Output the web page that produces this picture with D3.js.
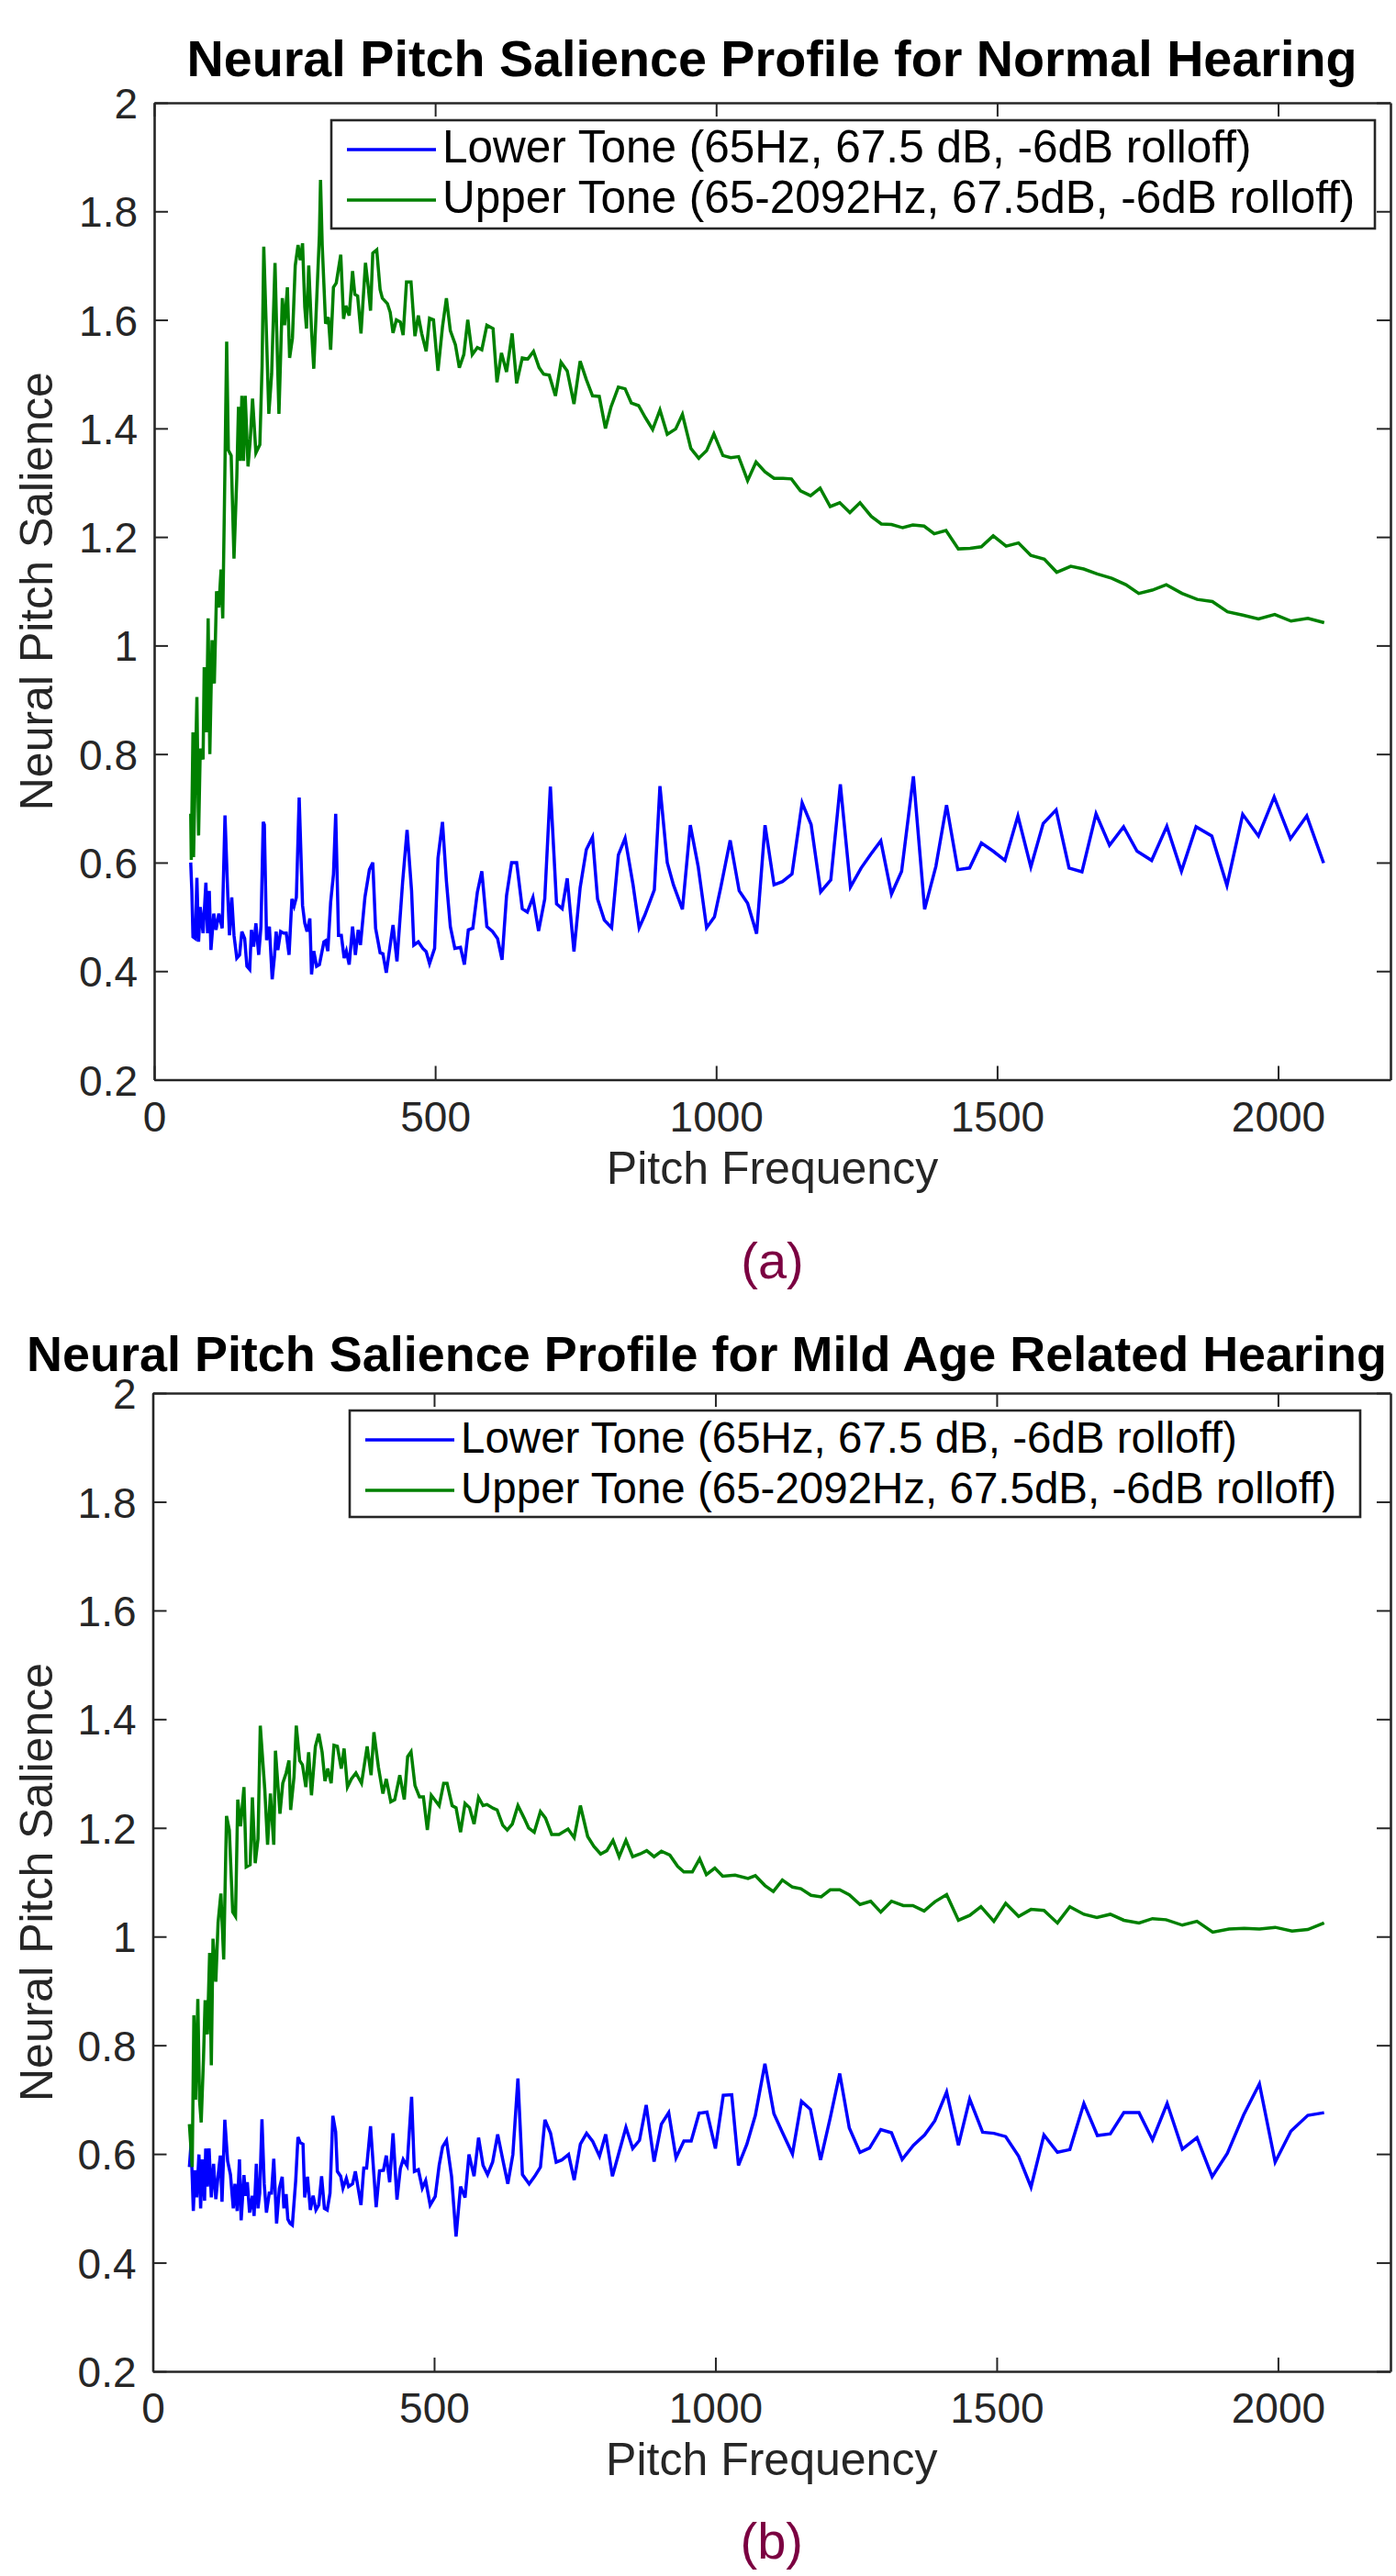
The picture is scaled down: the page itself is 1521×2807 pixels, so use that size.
<!DOCTYPE html>
<html>
<head>
<meta charset="utf-8">
<script src="https://cdn.jsdelivr.net/npm/d3@7/dist/d3.min.js"></script>
<style>
  body { margin: 0; background: #ffffff; }
  text { font-family: "Liberation Sans", Arial, Helvetica, sans-serif; }
</style>
</head>
<body>
<div id="container"></div>
<script>
let w = 1521;
let h = 2807;

// ---- data: [pitch frequency (Hz), salience] ----
let xTicks = [0, 500, 1000, 1500, 2000];
let yTicks = [0.2, 0.4, 0.6, 0.8, 1, 1.2, 1.4, 1.6, 1.8, 2];
let legendLabels = ["Lower Tone (65Hz, 67.5 dB, -6dB rolloff)", "Upper Tone (65-2092Hz, 67.5dB, -6dB rolloff)"];
let titles = ["Neural Pitch Salience Profile for Normal Hearing", "Neural Pitch Salience Profile for Mild Age Related Hearing"];
let captions = ["(a)", "(b)"];
let xLabel = "Pitch Frequency";
let yLabel = "Neural Pitch Salience";

// (a) normal hearing
let lowerA = [[65,0.60],[67,0.548],[69,0.463],[73,0.46],[76,0.572],[79,0.454],[82,0.518],[87,0.47],[92,0.563],[95,0.47],[98,0.548],[101,0.439],[106,0.506],[110,0.476],[115,0.506],[121,0.479],[126,0.687],[131,0.539],[134,0.466],[138,0.536],[142,0.466],[147,0.424],[152,0.43],[156,0.473],[161,0.46],[165,0.409],[170,0.403],[173,0.476],[177,0.445],[181,0.488],[186,0.43],[190,0.482],[194,0.675],[196,0.67],[200,0.457],[205,0.482],[210,0.385],[214,0.427],[217,0.473],[220,0.439],[225,0.473],[230,0.47],[235,0.47],[240,0.43],[245,0.533],[249,0.52],[253,0.536],[258,0.72],[264,0.521],[268,0.488],[272,0.473],[277,0.497],[280,0.394],[284,0.437],[289,0.409],[294,0.412],[302,0.454],[305,0.456],[309,0.437],[314,0.527],[319,0.578],[323,0.69],[328,0.466],[333,0.466],[338,0.424],[342,0.437],[347,0.412],[353,0.482],[358,0.43],[363,0.476],[367,0.448],[375,0.536],[383,0.587],[389,0.60],[394,0.479],[402,0.434],[407,0.432],[413,0.397],[425,0.485],[432,0.418],[442,0.563],[450,0.66],[458,0.548],[462,0.448],[470,0.454],[478,0.442],[484,0.436],[490,0.414],[499,0.442],[505,0.608],[513,0.675],[520,0.566],[527,0.482],[535,0.442],[545,0.444],[552,0.412],[559,0.476],[567,0.479],[575,0.545],[583,0.584],[592,0.482],[602,0.473],[611,0.46],[619,0.421],[627,0.539],[636,0.60],[645,0.60],[655,0.515],[664,0.509],[674,0.536],[684,0.474],[695,0.533],[705,0.74],[716,0.524],[726,0.515],[735,0.571],[747,0.436],[758,0.554],[769,0.624],[780,0.647],[789,0.533],[801,0.494],[814,0.48],[826,0.614],[838,0.645],[852,0.56],[863,0.48],[873,0.503],[881,0.525],[890,0.55],[900,0.741],[913,0.60],[924,0.559],[940,0.514],[954,0.669],[968,0.593],[983,0.48],[997,0.50],[1008,0.553],[1025,0.641],[1041,0.548],[1056,0.525],[1072,0.469],[1087,0.669],[1103,0.559],[1118,0.565],[1135,0.579],[1153,0.71],[1169,0.67],[1186,0.546],[1204,0.568],[1221,0.744],[1239,0.555],[1258,0.59],[1275,0.615],[1293,0.64],[1312,0.542],[1330,0.584],[1351,0.759],[1371,0.514],[1391,0.593],[1410,0.706],[1430,0.587],[1451,0.59],[1472,0.636],[1493,0.621],[1514,0.604],[1537,0.686],[1560,0.592],[1582,0.672],[1605,0.697],[1628,0.59],[1651,0.583],[1676,0.69],[1700,0.632],[1725,0.666],[1749,0.621],[1775,0.604],[1802,0.667],[1828,0.584],[1854,0.666],[1882,0.649],[1909,0.558],[1937,0.689],[1965,0.649],[1993,0.721],[2022,0.644],[2051,0.686],[2081,0.599]];
let upperA = [[65,0.69],[66,0.605],[69,0.84],[70,0.61],[76,0.905],[79,0.65],[82,0.81],[87,0.79],[89,0.96],[93,0.84],[96,1.05],[99,0.80],[103,1.01],[107,0.93],[111,1.10],[115,1.07],[119,1.14],[122,1.05],[125,1.26],[129,1.56],[132,1.36],[137,1.35],[142,1.16],[147,1.31],[150,1.44],[153,1.34],[156,1.46],[159,1.34],[162,1.46],[167,1.33],[171,1.38],[175,1.455],[181,1.355],[188,1.37],[192,1.515],[195,1.735],[199,1.60],[204,1.427],[209,1.50],[215,1.705],[218,1.58],[222,1.427],[228,1.64],[232,1.59],[237,1.66],[241,1.53],[246,1.566],[251,1.70],[256,1.738],[260,1.71],[264,1.741],[268,1.623],[271,1.584],[275,1.70],[280,1.58],[284,1.51],[294,1.756],[296,1.858],[299,1.738],[305,1.593],[310,1.605],[314,1.545],[319,1.66],[324,1.668],[332,1.72],[337,1.602],[341,1.626],[347,1.608],[353,1.69],[357,1.647],[362,1.644],[368,1.575],[376,1.705],[381,1.66],[385,1.617],[389,1.723],[396,1.729],[402,1.656],[406,1.64],[415,1.63],[420,1.614],[425,1.576],[431,1.60],[438,1.596],[443,1.572],[449,1.67],[457,1.67],[464,1.57],[470,1.608],[476,1.575],[484,1.542],[490,1.603],[497,1.60],[505,1.506],[513,1.587],[520,1.64],[527,1.58],[536,1.554],[543,1.512],[551,1.536],[558,1.60],[566,1.536],[575,1.549],[583,1.545],[592,1.59],[603,1.584],[610,1.485],[618,1.539],[627,1.504],[637,1.575],[645,1.483],[655,1.53],[665,1.528],[675,1.542],[685,1.512],[693,1.50],[703,1.498],[714,1.46],[724,1.522],[735,1.506],[747,1.445],[758,1.524],[769,1.49],[780,1.46],[792,1.459],[803,1.40],[813,1.44],[826,1.476],[838,1.473],[849,1.447],[862,1.442],[874,1.42],[887,1.398],[900,1.434],[913,1.389],[928,1.399],[940,1.426],[955,1.363],[969,1.345],[983,1.359],[996,1.39],[1012,1.35],[1026,1.346],[1040,1.348],[1056,1.304],[1071,1.338],[1087,1.32],[1103,1.308],[1119,1.308],[1134,1.307],[1150,1.285],[1168,1.276],[1185,1.29],[1203,1.256],[1220,1.263],[1238,1.245],[1256,1.263],[1276,1.238],[1294,1.224],[1312,1.223],[1332,1.217],[1350,1.222],[1370,1.22],[1388,1.206],[1409,1.212],[1431,1.178],[1452,1.179],[1472,1.182],[1493,1.202],[1516,1.183],[1538,1.189],[1560,1.166],[1584,1.159],[1606,1.135],[1631,1.146],[1654,1.141],[1678,1.132],[1704,1.124],[1729,1.112],[1752,1.096],[1776,1.102],[1801,1.112],[1829,1.096],[1856,1.085],[1883,1.081],[1910,1.062],[1937,1.056],[1965,1.049],[1994,1.057],[2023,1.045],[2053,1.05],[2082,1.042]];

// (b) mild age related hearing
let lowerB = [[65,0.576],[68,0.62],[72,0.495],[75,0.57],[78,0.52],[82,0.599],[85,0.50],[88,0.59],[92,0.514],[94,0.61],[97,0.54],[100,0.61],[104,0.52],[108,0.582],[112,0.517],[116,0.56],[120,0.597],[123,0.512],[128,0.663],[133,0.587],[138,0.562],[143,0.50],[146,0.545],[150,0.495],[154,0.59],[157,0.478],[162,0.561],[165,0.523],[168,0.548],[172,0.492],[177,0.523],[180,0.486],[184,0.582],[187,0.50],[190,0.528],[194,0.664],[198,0.545],[202,0.492],[207,0.528],[211,0.528],[215,0.591],[220,0.472],[225,0.537],[230,0.558],[233,0.50],[237,0.526],[240,0.48],[244,0.472],[248,0.469],[254,0.551],[258,0.631],[262,0.621],[267,0.618],[270,0.52],[275,0.558],[280,0.497],[285,0.523],[290,0.497],[295,0.506],[300,0.559],[305,0.50],[310,0.497],[315,0.528],[320,0.67],[325,0.641],[328,0.568],[334,0.559],[338,0.537],[344,0.555],[348,0.54],[355,0.545],[360,0.568],[370,0.506],[375,0.574],[380,0.574],[387,0.651],[397,0.502],[403,0.569],[410,0.57],[415,0.597],[421,0.548],[427,0.638],[434,0.516],[440,0.573],[445,0.59],[452,0.578],[460,0.705],[465,0.568],[472,0.571],[479,0.537],[485,0.551],[493,0.506],[502,0.522],[509,0.579],[515,0.613],[522,0.625],[531,0.559],[539,0.448],[547,0.54],[555,0.52],[562,0.599],[571,0.559],[579,0.63],[587,0.579],[595,0.562],[604,0.585],[613,0.636],[622,0.59],[631,0.545],[640,0.599],[649,0.739],[657,0.562],[669,0.545],[679,0.559],[689,0.576],[697,0.663],[707,0.638],[717,0.585],[727,0.589],[739,0.599],[749,0.552],[760,0.618],[771,0.638],[782,0.623],[794,0.596],[805,0.636],[817,0.559],[829,0.604],[841,0.649],[853,0.61],[865,0.625],[877,0.69],[891,0.586],[904,0.655],[917,0.676],[930,0.593],[944,0.624],[957,0.624],[971,0.675],[985,0.677],[1000,0.61],[1014,0.708],[1029,0.709],[1041,0.579],[1056,0.618],[1071,0.671],[1088,0.766],[1104,0.674],[1119,0.64],[1137,0.60],[1153,0.697],[1169,0.682],[1187,0.589],[1204,0.666],[1221,0.748],[1238,0.648],[1257,0.603],[1274,0.611],[1294,0.645],[1313,0.639],[1332,0.59],[1352,0.616],[1372,0.635],[1390,0.661],[1411,0.714],[1432,0.616],[1452,0.701],[1475,0.64],[1495,0.638],[1516,0.632],[1539,0.596],[1561,0.539],[1584,0.635],[1608,0.603],[1630,0.608],[1655,0.693],[1679,0.634],[1702,0.637],[1726,0.676],[1753,0.676],[1777,0.626],[1803,0.693],[1830,0.609],[1856,0.63],[1883,0.558],[1910,0.601],[1939,0.672],[1967,0.729],[1995,0.585],[2023,0.642],[2053,0.671],[2082,0.676]];
let upperB = [[65,0.655],[70,0.576],[73,0.855],[76,0.70],[80,0.885],[83,0.70],[86,0.658],[90,0.773],[93,0.883],[97,0.82],[101,0.97],[104,0.763],[107,0.996],[112,0.917],[116,1.026],[121,1.079],[126,0.958],[131,1.222],[136,1.196],[142,1.045],[147,1.037],[151,1.252],[156,1.203],[162,1.275],[166,1.128],[173,1.132],[177,1.256],[182,1.135],[187,1.18],[191,1.388],[199,1.271],[204,1.169],[209,1.263],[215,1.169],[218,1.342],[226,1.226],[231,1.282],[237,1.301],[242,1.324],[245,1.233],[251,1.294],[255,1.388],[261,1.324],[266,1.316],[272,1.275],[277,1.339],[282,1.26],[289,1.35],[295,1.373],[301,1.339],[306,1.286],[311,1.309],[317,1.282],[322,1.352],[328,1.35],[335,1.309],[340,1.346],[346,1.275],[353,1.29],[361,1.301],[371,1.282],[381,1.35],[388,1.297],[393,1.376],[401,1.312],[409,1.263],[415,1.29],[423,1.248],[430,1.252],[439,1.297],[447,1.252],[453,1.331],[459,1.34],[466,1.278],[474,1.257],[481,1.257],[488,1.196],[495,1.26],[509,1.241],[517,1.282],[523,1.282],[532,1.241],[539,1.237],[547,1.192],[555,1.245],[563,1.237],[571,1.207],[579,1.256],[587,1.241],[594,1.243],[605,1.236],[612,1.233],[622,1.205],[630,1.196],[639,1.207],[649,1.241],[660,1.218],[668,1.20],[678,1.192],[689,1.23],[698,1.218],[709,1.188],[722,1.188],[738,1.198],[749,1.182],[760,1.241],[773,1.184],[784,1.166],[796,1.152],[807,1.158],[818,1.177],[829,1.147],[841,1.177],[853,1.147],[866,1.152],[878,1.158],[891,1.147],[904,1.157],[919,1.15],[933,1.129],[944,1.119],[959,1.119],[972,1.143],[984,1.114],[999,1.126],[1013,1.111],[1035,1.113],[1058,1.107],[1071,1.112],[1088,1.094],[1103,1.083],[1119,1.104],[1137,1.091],[1152,1.088],[1170,1.076],[1188,1.073],[1204,1.086],[1221,1.086],[1238,1.077],[1257,1.059],[1276,1.065],[1294,1.045],[1313,1.065],[1334,1.057],[1351,1.057],[1371,1.047],[1390,1.064],[1411,1.077],[1432,1.03],[1452,1.039],[1472,1.055],[1495,1.028],[1516,1.061],[1539,1.037],[1561,1.05],[1584,1.048],[1608,1.025],[1630,1.055],[1655,1.041],[1678,1.035],[1702,1.041],[1726,1.03],[1753,1.025],[1777,1.033],[1801,1.031],[1830,1.021],[1856,1.028],[1884,1.008],[1913,1.014],[1940,1.015],[1967,1.014],[1995,1.017],[2025,1.01],[2053,1.013],[2082,1.025]];

let seriesColors = ["#0000ff", "#008000"];
let axisColor = "#262626";

let viz = d3.select("#container")
  .append("svg")
    .attr("width", w)
    .attr("height", h)
    .style("background-color", "white");

viz.append("rect").attr("width", w).attr("height", h).attr("fill", "white");

// layout of the two panels
let panels = [
  { left: 168, right: 1515, top: 112, bottom: 1176.5, lower: lowerA, upper: upperA,
    title: titles[0], titleX: 841, titleY: 83, titleLen: 1275, titleFont: 55,
    caption: captions[0], captionY: 1393,
    legend: { x: 361, y: 131, w: 1137, h: 118, font: 49.5 } },
  { left: 166.5, right: 1515, top: 1518, bottom: 2584, lower: lowerB, upper: upperB,
    title: titles[1], titleX: 770, titleY: 1494, titleLen: 1482, titleFont: 53,
    caption: captions[1], captionY: 2788,
    legend: { x: 381, y: 1537, w: 1101, h: 116, font: 47.5 } }
];

function drawPanel(p) {
  let g = viz.append("g").attr("class", "panel");

  let xScale = d3.scaleLinear().domain([0, 2200]).range([p.left, p.right]);
  let yScale = d3.scaleLinear().domain([0.2, 2]).range([p.bottom, p.top]);

  // data lines
  let line = d3.line()
    .x(function(d) { return xScale(d[0]); })
    .y(function(d) { return yScale(d[1]); });

  [p.lower, p.upper].forEach(function(s, i) {
    g.append("path")
      .datum(s)
      .attr("d", line)
      .attr("fill", "none")
      .attr("stroke", seriesColors[i])
      .attr("stroke-width", 3.5)
      .attr("stroke-linejoin", "miter");
  });

  // axes, ticks pointing inwards like matlab
  let fmt = function(d) { return String(d); };
  let xAxis = d3.axisBottom(xScale).tickValues(xTicks).tickSizeInner(-15).tickSizeOuter(0).tickPadding(23).tickFormat(fmt);
  let yAxis = d3.axisLeft(yScale).tickValues(yTicks).tickSizeInner(-15).tickSizeOuter(0).tickPadding(18).tickFormat(fmt);
  let xTop = d3.axisTop(xScale).tickValues(xTicks).tickSizeInner(-15).tickSizeOuter(0).tickFormat("");
  let yRight = d3.axisRight(yScale).tickValues(yTicks).tickSizeInner(-15).tickSizeOuter(0).tickFormat("");

  let xg = g.append("g").attr("transform", "translate(0," + p.bottom + ")").call(xAxis);
  let yg = g.append("g").attr("transform", "translate(" + p.left + ",0)").call(yAxis);
  let tg = g.append("g").attr("transform", "translate(0," + p.top + ")").call(xTop);
  let rg = g.append("g").attr("transform", "translate(" + p.right + ",0)").call(yRight);

  [xg, yg, tg, rg].forEach(function(a) {
    a.select(".domain").attr("stroke", axisColor).attr("stroke-width", 2.6);
    a.selectAll(".tick line").attr("stroke", axisColor).attr("stroke-width", 2);
    a.selectAll(".tick text")
      .attr("fill", axisColor)
      .style("font-size", "46px");
  });
  xg.selectAll(".tick text").attr("dy", "0.72em");
  yg.selectAll(".tick text").attr("dy", "0.36em");

  // axis titles
  g.append("text")
    .text(xLabel)
    .attr("x", (p.left + p.right) / 2)
    .attr("y", p.bottom + 113)
    .attr("text-anchor", "middle")
    .attr("fill", axisColor)
    .style("font-size", "50px");
  g.append("text")
    .text(yLabel)
    .attr("transform", "translate(57," + (p.top + p.bottom) / 2 + "),rotate(-90)")
    .attr("text-anchor", "middle")
    .attr("fill", axisColor)
    .style("font-size", "50px");

  // title
  g.append("text")
    .text(p.title)
    .attr("x", p.titleX)
    .attr("y", p.titleY)
    .attr("text-anchor", "middle")
    .attr("textLength", p.titleLen)
    .attr("lengthAdjust", "spacingAndGlyphs")
    .attr("fill", "black")
    .style("font-weight", "bold")
    .style("font-size", p.titleFont + "px");

  // legend
  let lg = g.append("g").attr("transform", "translate(" + p.legend.x + "," + p.legend.y + ")");
  lg.append("rect")
    .attr("width", p.legend.w)
    .attr("height", p.legend.h)
    .attr("fill", "white")
    .attr("stroke", axisColor)
    .attr("stroke-width", 2.6);
  legendLabels.forEach(function(lab, i) {
    let cy = 32 + i * 55;
    lg.append("line")
      .attr("x1", 17).attr("x2", 114)
      .attr("y1", cy).attr("y2", cy)
      .attr("stroke", seriesColors[i])
      .attr("stroke-width", 3.5);
    lg.append("text")
      .text(lab)
      .attr("x", 121)
      .attr("y", cy + 14)
      .attr("fill", "black")
      .style("font-size", p.legend.font + "px");
  });

  // sub-figure caption
  g.append("text")
    .text(p.caption)
    .attr("x", (p.left + p.right) / 2)
    .attr("y", p.captionY)
    .attr("text-anchor", "middle")
    .attr("fill", "#7b0041")
    .style("font-size", "56px");
}

panels.forEach(drawPanel);
</script>
</body>
</html>
